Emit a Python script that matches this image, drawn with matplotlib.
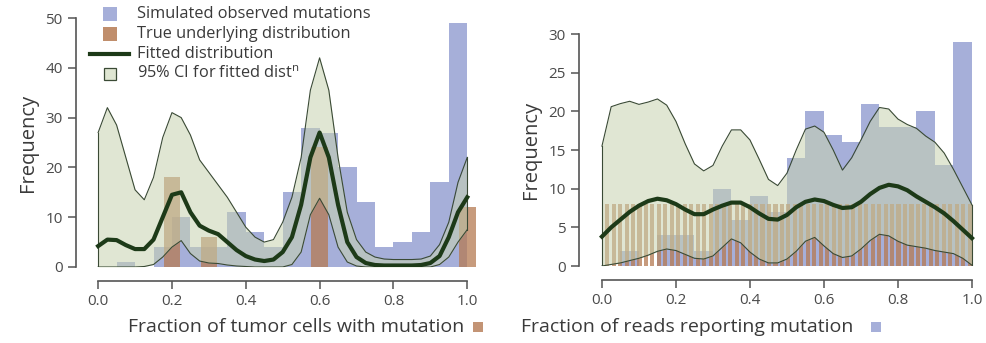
import numpy as np
import matplotlib.pyplot as plt
from matplotlib.patches import Rectangle
from matplotlib.lines import Line2D

plt.rcParams['font.family'] = ['Open Sans', 'DejaVu Sans']

# histogram bins (left edges, width 0.05)
bins = [0.00, 0.05, 0.10, 0.15, 0.20, 0.25, 0.30, 0.35, 0.40, 0.45,
        0.50, 0.55, 0.60, 0.65, 0.70, 0.75, 0.80, 0.85, 0.90, 0.95]

# left panel: tumour cell fraction
obs_left = [0, 1, 0, 4, 10, 4, 4, 11, 7, 4, 15, 28, 27, 20, 13, 4, 5, 7, 17, 49]
true_left_x = [0.2, 0.3, 0.6, 1.0]
true_left = [18, 6, 24, 12]

# fitted curves, sampled every 0.025
grid = np.linspace(0, 1, 41)
fit_left = [4.2, 5.5, 5.4, 4.4, 3.6, 3.6, 5.5, 10.0, 14.5, 15.0,
            11.0, 8.3, 7.3, 6.6, 5.0, 3.4, 2.2, 1.5, 1.2, 1.5,
            3.0, 6.0, 12.5, 22.0, 27.0, 22.0, 12.5, 5.0, 2.0, 0.8,
            0.4, 0.3, 0.3, 0.3, 0.3, 0.4, 0.8, 2.2, 6.0, 11.0, 14.0]
hi_left = [27.0, 32.0, 28.5, 22.0, 15.5, 13.5, 18.0, 26.0, 31.0, 30.0,
           26.5, 21.5, 19.0, 16.5, 14.0, 11.0, 8.0, 6.0, 5.0, 5.5,
           9.0, 14.0, 22.0, 35.5, 42.0, 35.5, 22.0, 11.0, 5.5, 3.0,
           2.0, 1.6, 1.5, 1.5, 1.5, 1.6, 2.2, 4.5, 9.0, 17.0, 22.0]
lo_left = [0.0, 0.0, 0.0, 0.0, 0.0, 0.1, 0.5, 2.0, 4.0, 5.3,
           2.7, 1.2, 0.8, 0.7, 0.4, 0.2, 0.1, 0.0, 0.0, 0.0,
           0.0, 0.5, 3.0, 10.5, 13.8, 10.5, 4.0, 1.0, 0.2, 0.0,
           0.0, 0.0, 0.0, 0.0, 0.0, 0.0, 0.0, 0.5, 2.0, 5.0, 7.5]

# right panel: read fraction
obs_right = [0, 2, 0, 4, 4, 2, 10, 6, 9, 7, 14, 20, 17, 16, 21, 18, 18, 20, 13, 29]
true_right_x = np.linspace(0.014, 0.994, 57)
true_right = [8, 8, 8, 8, 8, 8, 8, 8, 8, 8, 8, 8, 8, 8, 8, 8, 8, 8, 8,
              8, 8, 8, 8, 8, 8, 8, 8, 8, 8, 8, 8, 8, 8, 8, 8, 8, 8, 8,
              8, 8, 8, 8, 8, 8, 8, 8, 8, 8, 8, 8, 8, 8, 8, 8, 8, 8, 8]
fit_right = [3.8, 5.0, 6.0, 7.0, 7.8, 8.4, 8.7, 8.5, 8.0, 7.3,
             6.7, 6.7, 7.3, 7.8, 8.2, 8.2, 7.6, 6.8, 6.1, 6.0,
             6.6, 7.6, 8.3, 8.6, 8.4, 7.9, 7.5, 7.6, 8.3, 9.3,
             10.1, 10.5, 10.3, 9.8, 9.0, 8.3, 7.6, 6.8, 5.8, 4.7, 3.6]
hi_right = [15.5, 20.6, 21.0, 21.3, 20.9, 21.2, 21.6, 20.8, 18.7, 15.8,
            13.2, 12.3, 13.0, 15.5, 17.6, 17.6, 16.3, 13.8, 11.2, 10.4,
            12.0, 15.0, 17.7, 18.1, 17.3, 15.0, 12.4, 14.0, 16.3, 18.7,
            20.5, 20.3, 19.0, 18.3, 17.8, 16.8, 16.0, 14.6, 12.5, 10.2, 7.9]
lo_right = [0.0, 0.2, 0.4, 0.7, 1.0, 1.4, 1.9, 2.2, 2.0, 1.5,
            1.0, 0.9, 1.3, 2.4, 3.5, 3.0, 1.8, 0.9, 0.4, 0.4,
            0.9, 1.9, 3.2, 3.7, 2.6, 1.6, 1.1, 1.3, 2.2, 3.3,
            4.1, 3.9, 3.2, 2.7, 2.5, 2.3, 2.0, 1.8, 1.6, 1.0, 0.1]

BLUE = '#a6afd9'
ORANGE = '#b57a52'
CI_FILL = '#c8d3b0'
CI_EDGE = '#3a4a35'
FIT = '#1d3a18'
AXIS = '#555555'
TEXT = '#3a3a3a'


def style_axes(ax, ymax, ystep):
    for side in ['top', 'right']:
        ax.spines[side].set_visible(False)
    ax.spines['bottom'].set_position(('outward', 10))
    ax.spines['bottom'].set_bounds(0, 1)
    ax.spines['left'].set_bounds(0, ymax)
    for side in ['left', 'bottom']:
        ax.spines[side].set_color(AXIS)
        ax.spines[side].set_linewidth(1.2)
    ax.set_xticks([0.0, 0.2, 0.4, 0.6, 0.8, 1.0])
    ax.set_xticklabels(['0.0', '0.2', '0.4', '0.6', '0.8', '1.0'])
    ax.set_yticks(np.arange(0, ymax + 1, ystep))
    ax.tick_params(colors=AXIS, labelcolor='#4a4a4a', labelsize=11, length=6, width=1.1)
    ax.set_ylabel('Frequency', fontsize=14.5, color=TEXT, labelpad=5)


def draw_panel(ax, obs, true_x, true_y, true_w, fit, hi, lo):
    ax.bar(bins, obs, width=0.05, align='edge', color=BLUE, linewidth=0, zorder=1)
    ax.bar(true_x, true_y, width=true_w, color=ORANGE, alpha=0.75, linewidth=0, zorder=2)
    ax.fill_between(grid, lo, hi, color=CI_FILL, alpha=0.55, linewidth=0, zorder=3)
    ax.plot(grid, hi, color=CI_EDGE, lw=0.8, zorder=4)
    ax.plot(grid, lo, color=CI_EDGE, lw=0.8, zorder=4)
    ax.plot([0, 0], [lo[0], hi[0]], color=CI_EDGE, lw=0.8, zorder=4)
    ax.plot([1, 1], [lo[-1], hi[-1]], color=CI_EDGE, lw=0.8, zorder=4)
    ax.plot(grid, fit, color=FIT, lw=3, solid_joinstyle='round', zorder=5)


fig = plt.figure(figsize=(9.87, 3.43), dpi=100)
W, H = 987.0, 343.0

axL = fig.add_axes([76 / W, 76 / H, 406 / W, 249 / H])
draw_panel(axL, obs_left, true_left_x, true_left, 0.045, fit_left, hi_left, lo_left)
axL.set_xlim(-0.06, 1.04)
axL.set_ylim(0, 50)
style_axes(axL, 50, 10)

axR = fig.add_axes([579 / W, 77 / H, 400 / W, 232 / H])
draw_panel(axR, obs_right, true_right_x, true_right, 0.011, fit_right, hi_right, lo_right)
axR.set_xlim(-0.062, 1.019)
axR.set_ylim(0, 30)
style_axes(axR, 30, 5)

# x labels with small colour keys
fig.text(296 / W, 1 - 327 / H, 'Fraction of tumor cells with mutation',
         ha='center', va='center', fontsize=14, color=TEXT)
fig.add_artist(Rectangle((473 / W, 1 - 332 / H), 10 / W, 10 / H,
                         transform=fig.transFigure, color=ORANGE, alpha=0.8, lw=0))
fig.text(687 / W, 1 - 327 / H, 'Fraction of reads reporting mutation',
         ha='center', va='center', fontsize=14, color=TEXT)
fig.add_artist(Rectangle((871 / W, 1 - 332 / H), 10 / W, 10 / H,
                         transform=fig.transFigure, color=BLUE, lw=0))

# legend, drawn by hand to get square keys next to a long line key
legend_rows = ['Simulated observed mutations', 'True underlying distribution',
               'Fitted distribution', '95% CI for fitted dist$^{\\mathregular{n}}$']
row_y = [14, 34, 54, 74]
for label, y in zip(legend_rows, row_y):
    fig.text(137 / W, 1 - y / H, label, ha='left', va='center', fontsize=11.8, color=TEXT)
fig.add_artist(Rectangle((103 / W, 1 - 21 / H), 14 / W, 14 / H,
                         transform=fig.transFigure, color=BLUE, lw=0))
fig.add_artist(Rectangle((103 / W, 1 - 41 / H), 14 / W, 14 / H,
                         transform=fig.transFigure, color=ORANGE, alpha=0.85, lw=0))
fig.add_artist(Line2D([90 / W, 129 / W], [1 - 54 / H, 1 - 54 / H],
                      transform=fig.transFigure, color=FIT, lw=3))
fig.add_artist(Rectangle((104 / W, 1 - 80 / H), 12 / W, 12 / H,
                         transform=fig.transFigure, facecolor='#dfe6d2',
                         edgecolor=CI_EDGE, lw=0.9))

fig.savefig('out.png', dpi=100)
